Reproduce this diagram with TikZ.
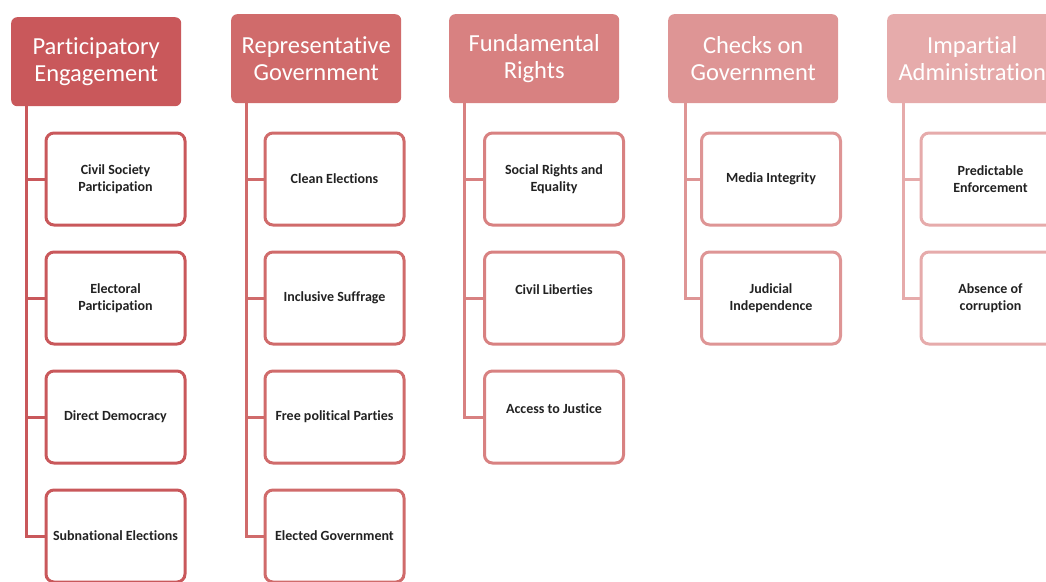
\documentclass[tikz,border=0pt]{standalone}
\usepackage{fontspec}
\setmainfont{Carlito}[Ligatures=NoCommon]
\definecolor{cA}{HTML}{C9585B}
\definecolor{cB}{HTML}{D06B6B}
\definecolor{cC}{HTML}{D88181}
\definecolor{cD}{HTML}{DE9595}
\definecolor{cE}{HTML}{E6ABAB}
\definecolor{txt}{HTML}{222222}
\tikzset{
  hdr/.style={rectangle, rounded corners=6pt, fill=#1, draw=none, anchor=north west,
    minimum width=170pt, minimum height=89pt, text=white, align=center,
    font=\fontsize{24.5}{27}\selectfont, inner sep=0pt},
  child/.style={rectangle, rounded corners=8pt, fill=white, draw=#1, line width=3pt,
    anchor=north west, minimum width=139pt, minimum height=92pt, align=center,
    text=txt, font=\bfseries\fontsize{14}{17.5}\selectfont, inner sep=0pt},
  conn/.style={draw=#1, line width=3pt},
  raised/.style={text depth=16pt, text height=9pt}
}
\begin{document}
\begin{tikzpicture}[x=1pt,y=-1pt]
\useasboundingbox (0,0) rectangle (1046,581);
\clip (0,0) rectangle (1046,581);
% column 1
\node[hdr=cA] (h1) at (11,17) {Participatory\\Engagement};
\coordinate (v1) at (26,106);
\node[child=cA] (a1) at (44.5,131.5) {Civil Society\\Participation};
\node[child=cA] (a2) at (44.5,250.5) {Electoral\\Participation};
\node[child=cA] (a3) at (44.5,369.5) {Direct Democracy};
\node[child=cA] (a4) at (44.5,488.5) {Subnational Elections};
\foreach \n in {a1,a2,a3,a4} \draw[conn=cA] (v1) |- (\n.west);
% column 2
\node[hdr=cB] (h2) at (231,14) {Representative\\Government};
\coordinate (v2) at (246,103);
\node[child=cB] (b1) at (263.5,131.5) {Clean Elections};
\node[child=cB] (b2) at (263.5,250.5) {Inclusive Suffrage};
\node[child=cB] (b3) at (263.5,369.5) {Free political Parties};
\node[child=cB] (b4) at (263.5,488.5) {Elected Government};
\foreach \n in {b1,b2,b3,b4} \draw[conn=cB] (v2) |- (\n.west);
% column 3
\node[hdr=cC] (h3) at (449,14) {Fundamental\\Rights};
\coordinate (v3) at (464,103);
\node[child=cC] (c1) at (483,131.5) {Social Rights and\\Equality};
\node[child=cC, raised] (c2) at (483,250.5) {Civil Liberties};
\node[child=cC, raised] (c3) at (483,369.5) {Access to Justice};
\foreach \n in {c1,c2,c3} \draw[conn=cC] (v3) |- (\n.west);
% column 4
\node[hdr=cD] (h4) at (668,14) {Checks on\\Government};
\coordinate (v4) at (685,103);
\node[child=cD] (d1) at (700,131.5) {Media Integrity};
\node[child=cD] (d2) at (700,250.5) {Judicial\\Independence};
\foreach \n in {d1,d2} \draw[conn=cD] (v4) |- (\n.west);
% column 5
\node[hdr=cE] (h5) at (887,14) {Impartial\\Administration};
\coordinate (v5) at (903,103);
\node[child=cE] (e1) at (919.5,131.5) {Predictable\\Enforcement};
\node[child=cE] (e2) at (919.5,250.5) {Absence of\\corruption};
\foreach \n in {e1,e2} \draw[conn=cE] (v5) |- (\n.west);
\end{tikzpicture}
\end{document}
